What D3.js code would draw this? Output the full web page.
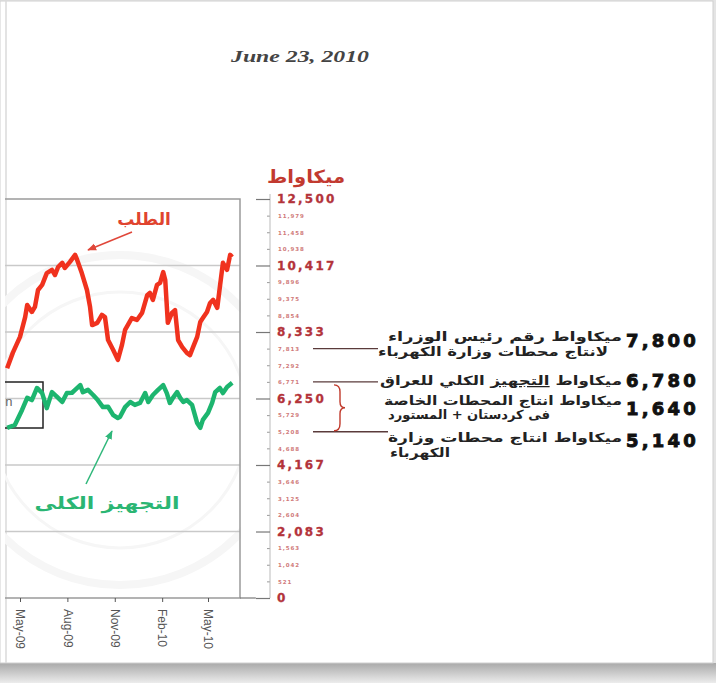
<!DOCTYPE html>
<html>
<head>
<meta charset="utf-8">
<title>Iraq power demand vs supply</title>
<script src="https://cdn.jsdelivr.net/npm/d3@7/dist/d3.min.js"></script>
<style>
  body { margin: 0; background: #e4e4e4; }
  svg { display: block; }
  .xlab text { font-family: "Liberation Sans", Arial, sans-serif; font-size: 12px; fill: #555; }
  .major text { font-family: "DejaVu Sans", sans-serif; font-weight: bold; font-size: 12px; fill: #b3333a; letter-spacing: 2.2px; stroke: #b3333a; stroke-width: 0.3px; }
  .minor text { font-family: "DejaVu Sans", sans-serif; font-weight: bold; font-size: 5.5px; fill: #d07a7a; letter-spacing: 0.9px; }
  .ar { font-family: "DejaVu Sans", sans-serif; font-weight: bold; }
</style>
</head>
<body>
<script>
// demand line (red)
var demandDates = ["2009-04-06","2009-04-17","2009-05-01","2009-05-11","2009-05-15","2009-05-24","2009-05-30",
  "2009-06-05","2009-06-13","2009-06-22","2009-07-02","2009-07-08","2009-07-14","2009-07-22","2009-07-27",
  "2009-08-06","2009-08-16","2009-08-20","2009-08-29","2009-09-08","2009-09-14","2009-09-18","2009-09-28",
  "2009-10-07","2009-10-13","2009-10-19","2009-10-29","2009-11-07","2009-11-15","2009-11-21","2009-12-04",
  "2009-12-14","2009-12-24","2010-01-03","2010-01-08","2010-01-14","2010-01-22","2010-01-28","2010-02-03",
  "2010-02-07","2010-02-12","2010-02-20","2010-02-26","2010-03-04","2010-03-12","2010-03-21","2010-03-27",
  "2010-04-02","2010-04-10","2010-04-16","2010-04-21","2010-04-29","2010-05-05","2010-05-11","2010-05-19",
  "2010-05-24","2010-05-30","2010-06-07","2010-06-13","2010-06-17"];
var demandValues = [7200,7680,8180,8800,9180,8960,9120,9650,9810,10180,10280,10120,10370,10500,10340,
  10530,10750,10590,10180,9650,9120,8550,8620,8870,8800,8080,7770,7460,7930,8400,8770,
  8710,8930,9490,9560,9340,9810,9870,10210,9960,8620,8930,9020,8080,7860,7680,7610,
  7860,8180,8650,8770,8960,9240,9340,9090,9740,10500,10280,10750,10680];

// total supply line (green)
var supplyDates = ["2009-04-06","2009-04-21","2009-05-05","2009-05-15","2009-05-24","2009-06-03","2009-06-13",
  "2009-06-22","2009-07-02","2009-07-12","2009-07-22","2009-07-31","2009-08-10","2009-08-16","2009-08-26",
  "2009-08-31","2009-09-10","2009-09-20","2009-09-29","2009-10-09","2009-10-19","2009-10-29","2009-11-07",
  "2009-11-11","2009-11-21","2009-12-01","2009-12-10","2009-12-20","2009-12-30","2010-01-05","2010-01-14",
  "2010-01-24","2010-02-03","2010-02-10","2010-02-16","2010-02-22","2010-03-02","2010-03-08","2010-03-14",
  "2010-03-21","2010-03-31","2010-04-10","2010-04-16","2010-04-21","2010-05-01","2010-05-09","2010-05-15",
  "2010-05-24","2010-05-30","2010-06-07","2010-06-17"];
var supplyValues = [5330,5420,5890,6270,6200,6580,6420,5950,6450,6300,6140,6420,6430,6520,6670,
  6450,6520,6360,6200,5980,5990,5730,5640,5670,5980,6140,6050,6110,6420,6140,6360,
  6520,6670,6420,6110,6270,6450,6270,6140,6200,6050,5480,5330,5580,5800,6110,6450,
  6580,6420,6610,6740];

var xTickDates = ["2009-05-01","2009-08-01","2009-11-01","2010-02-01","2010-05-01"];
var xTickLabels = ["May-09","Aug-09","Nov-09","Feb-10","May-10"];

var majorTicks = [0, 2083, 4167, 6250, 8333, 10417, 12500];
var majorLabels = ["0","2,083","4,167","6,250","8,333","10,417","12,500"];
var minorTicks = [521, 1042, 1563, 2604, 3125, 3646, 4688, 5208, 5729, 6771, 7292, 7813, 8854, 9375, 9896, 10938, 11458, 11979];
var minorLabels = ["521","1,042","1,563","2,604","3,125","3,646","4,688","5,208","5,729","6,771","7,292","7,813","8,854","9,375","9,896","10,938","11,458","11,979"];

var noteNumbers = ["7,800","6,780","1,640","5,140"];
var noteLevels = [7813, 6771, null, 5208];

var W = 716, H = 683;
var parse = d3.timeParse("%Y-%m-%d");

var svg = d3.select("body").append("svg")
    .attr("width", W).attr("height", H);

// paper + shadow
var defs = svg.append("defs");
var grad = defs.append("linearGradient").attr("id", "shadow")
    .attr("x1", 0).attr("y1", 0).attr("x2", 0).attr("y2", 1);
grad.append("stop").attr("offset", "0%").attr("stop-color", "#a9a9a9");
grad.append("stop").attr("offset", "100%").attr("stop-color", "#ececec");
svg.append("rect").attr("x", 0).attr("y", 663).attr("width", W).attr("height", 20).attr("fill", "url(#shadow)");
svg.append("rect").attr("x", 0).attr("y", 1).attr("width", 713).attr("height", 662)
    .attr("fill", "#fff").attr("stroke", "#cfcfcf");
svg.append("line").attr("x1", 6).attr("x2", 6).attr("y1", 1).attr("y2", 663)
    .attr("stroke", "#dadada").attr("stroke-width", 1.5);

defs.append("clipPath").attr("id", "plotclip").append("rect")
    .attr("x", 5).attr("y", 190).attr("width", 236).attr("height", 410);

// faint seal watermark
var wm = svg.append("g").attr("clip-path", "url(#plotclip)").attr("fill", "none").attr("stroke", "#f6f6f6");
wm.append("circle").attr("cx", 120).attr("cy", 420).attr("r", 165).attr("stroke-width", 8);
wm.append("circle").attr("cx", 120).attr("cy", 420).attr("r", 128).attr("stroke-width", 3);

// title
svg.append("text")
    .attr("x", 300).attr("y", 62)
    .attr("text-anchor", "middle")
    .attr("textLength", 138).attr("lengthAdjust", "spacingAndGlyphs")
    .style("font-family", "'Liberation Serif', 'DejaVu Serif', serif")
    .style("font-style", "italic")
    .style("font-weight", "bold")
    .style("font-size", "16px")
    .style("fill", "#444")
    .text("June 23, 2010");

// scales
var x = d3.scaleTime()
    .domain([parse("2009-05-01"), parse("2010-05-01")])
    .range([20, 208]);
var y = d3.scaleLinear()
    .domain([0, 12500])
    .range([598, 199]);

var plot = svg.append("g").attr("clip-path", "url(#plotclip)");

// gridlines
plot.selectAll(".grid")
    .data(majorTicks.filter(function(d) { return d > 0 && d < 12500; }))
  .enter().append("line")
    .attr("x1", 0).attr("x2", 240)
    .attr("y1", function(d) { return y(d); })
    .attr("y2", function(d) { return y(d); })
    .attr("stroke", "#c9c9c9").attr("stroke-width", 1.5);

// frame (top, right, bottom)
plot.append("path")
    .attr("d", "M0," + y(12500) + "H240V" + y(0) + "H0")
    .attr("fill", "none").attr("stroke", "#9a9a9a").attr("stroke-width", 1.5);
svg.append("line").attr("x1", 240).attr("x2", 256).attr("y1", y(0)).attr("y2", y(0))
    .attr("stroke", "#777").attr("stroke-width", 1.2);

// legend box (cropped)
plot.append("rect")
    .attr("x", -80).attr("y", 382).attr("width", 123).attr("height", 46)
    .attr("fill", "none").attr("stroke", "#222").attr("stroke-width", 1.5);
plot.append("text")
    .attr("x", 12.5).attr("y", 406)
    .attr("text-anchor", "end")
    .style("font-family", "'Liberation Sans', Arial, sans-serif")
    .style("font-size", "13px").style("fill", "#666")
    .text("Generation");

// lines
var line = d3.line()
    .x(function(d) { return x(d.date); })
    .y(function(d) { return y(d.value); })
    .curve(d3.curveLinear);

var demand = demandDates.map(function(d, i) { return {date: parse(d), value: demandValues[i]}; });
var supply = supplyDates.map(function(d, i) { return {date: parse(d), value: supplyValues[i]}; });

plot.append("path").datum(demand)
    .attr("d", line)
    .attr("fill", "none").attr("stroke", "#f0321e")
    .attr("stroke-width", 4.5).attr("stroke-linejoin", "round");
plot.append("path").datum(supply)
    .attr("d", line)
    .attr("fill", "none").attr("stroke", "#1db56f")
    .attr("stroke-width", 4.5).attr("stroke-linejoin", "round");

// x axis
var xAxis = svg.append("g")
    .attr("class", "xlab")
    .attr("transform", "translate(0," + y(0) + ")")
    .call(d3.axisBottom(x)
        .tickValues(xTickDates.map(parse))
        .tickFormat(function(d, i) { return xTickLabels[i]; })
        .tickSize(4).tickSizeOuter(0));
xAxis.select(".domain").remove();
xAxis.selectAll("line").attr("stroke", "#555");
xAxis.selectAll("text")
    .attr("transform", "rotate(90)")
    .attr("x", 11).attr("y", 0).attr("dy", "0.35em")
    .style("text-anchor", "start");

// right axis
var axisX = 270;
var minorAxis = svg.append("g")
    .attr("class", "minor")
    .attr("transform", "translate(" + axisX + ",0)")
    .call(d3.axisRight(y)
        .tickValues(minorTicks)
        .tickFormat(function(d, i) { return minorLabels[i]; })
        .tickSize(-3).tickPadding(8));
minorAxis.select(".domain").remove();
minorAxis.selectAll("line").attr("stroke", "#999");

var majorAxis = svg.append("g")
    .attr("class", "major")
    .attr("transform", "translate(" + axisX + ",0)")
    .call(d3.axisRight(y)
        .tickValues(majorTicks)
        .tickFormat(function(d, i) { return majorLabels[i]; })
        .tickSize(-14).tickSizeOuter(0).tickPadding(7));
majorAxis.select(".domain").attr("stroke", "#bbb").attr("d", "M0," + (y(12500) - 5) + "V" + y(0));
majorAxis.selectAll("line").attr("stroke", "#777").attr("stroke-width", 1.2);

// unit label
svg.append("text")
    .attr("class", "ar")
    .attr("x", 306).attr("y", 183)
    .attr("text-anchor", "middle")
    .attr("textLength", 78).attr("lengthAdjust", "spacingAndGlyphs")
    .style("font-size", "18px").style("fill", "#c23a30")
    .text("ميكاواط");

// series labels + arrows
var arrow = function(id, color) {
  defs.append("marker").attr("id", id)
      .attr("viewBox", "0 0 10 10").attr("refX", 9).attr("refY", 5)
      .attr("markerWidth", 6).attr("markerHeight", 6).attr("orient", "auto")
    .append("path").attr("d", "M0,1L10,5L0,9Z").attr("fill", color);
};
arrow("ar-red", "#e0473a");
arrow("ar-green", "#2fb77a");

svg.append("text").attr("class", "ar")
    .attr("x", 144).attr("y", 225).attr("text-anchor", "middle")
    .style("font-size", "17px").style("fill", "#e0442f")
    .text("الطلب");
svg.append("line")
    .attr("x1", 132).attr("y1", 232).attr("x2", 88).attr("y2", 250)
    .attr("stroke", "#e0473a").attr("stroke-width", 1.5)
    .attr("marker-end", "url(#ar-red)");

svg.append("text").attr("class", "ar")
    .attr("x", 107).attr("y", 509).attr("text-anchor", "middle")
    .attr("textLength", 145).attr("lengthAdjust", "spacingAndGlyphs")
    .style("font-size", "17px").style("fill", "#2bb673")
    .text("التجهيز الكلى");
svg.append("line")
    .attr("x1", 86).attr("y1", 484).attr("x2", 112).attr("y2", 431)
    .attr("stroke", "#2fb77a").attr("stroke-width", 1.5)
    .attr("marker-end", "url(#ar-green)");

// notes on the right
var noteNumY = [347, 387, 415, 447];
svg.selectAll(".num")
    .data(noteNumbers)
  .enter().append("text")
    .attr("x", 626)
    .attr("y", function(d, i) { return noteNumY[i]; })
    .style("font-family", "'DejaVu Sans', sans-serif")
    .style("font-weight", "bold")
    .style("font-size", "18px")
    .style("letter-spacing", "3.2px")
    .style("fill", "#111").style("stroke", "#111").style("stroke-width", "0.9px")
    .text(function(d) { return d; });

var noteText = [
  {t: "ميكاواط رقم رئيس الوزراء", x: 622, y: 341, w: 234},
  {t: "لانتاج محطات وزارة الكهرباء", x: 608, y: 356, w: 230},
  {t: "ميكاواط انتاج المحطات الخاصة", x: 622, y: 405, w: 238},
  {t: "فى كردستان + المستورد", x: 550, y: 419, w: 162},
  {t: "ميكاواط انتاج محطات وزارة", x: 622, y: 442, w: 234},
  {t: "الكهرباء", x: 450, y: 457, w: 60}
];
svg.selectAll(".note")
    .data(noteText)
  .enter().append("text")
    .attr("class", "ar")
    .attr("x", function(d) { return d.x; })
    .attr("y", function(d) { return d.y; })
    .attr("text-anchor", "end")
    .attr("textLength", function(d) { return d.w; })
    .attr("lengthAdjust", "spacingAndGlyphs")
    .style("font-size", "12.5px").style("fill", "#222")
    .text(function(d) { return d.t; });

// line with underlined word
var t2 = svg.append("text").attr("class", "ar")
    .attr("x", 622).attr("y", 385)
    .attr("text-anchor", "end")
    .attr("textLength", 242).attr("lengthAdjust", "spacingAndGlyphs")
    .style("font-size", "12.5px").style("fill", "#222");
t2.append("tspan").text("ميكاواط ");
t2.append("tspan").style("text-decoration", "underline").text("التجهيز");
t2.append("tspan").text(" الكلي للعراق");

// connector lines from the axis
var connEnd = [378, 378, null, 388];
noteLevels.forEach(function(v, i) {
  if (v === null) return;
  svg.append("line")
      .attr("x1", 313).attr("x2", connEnd[i])
      .attr("y1", y(v)).attr("y2", y(v))
      .attr("stroke", "#5a3b3b").attr("stroke-width", 1.3);
});

// brace between 6,771 and 5,208
var b0 = y(6771) + 3, b1 = y(5208) - 1, bm = (b0 + b1) / 2;
svg.append("path")
    .attr("d", "M334," + b0 + "Q340," + b0 + " 340," + (b0 + 7) +
         "L340," + (bm - 6) + "Q340," + bm + " 345," + bm +
         "Q340," + bm + " 340," + (bm + 6) +
         "L340," + (b1 - 7) + "Q340," + b1 + " 334," + b1)
    .attr("fill", "none").attr("stroke", "#c0392b").attr("stroke-width", 1.4);
</script>
</body>
</html>
